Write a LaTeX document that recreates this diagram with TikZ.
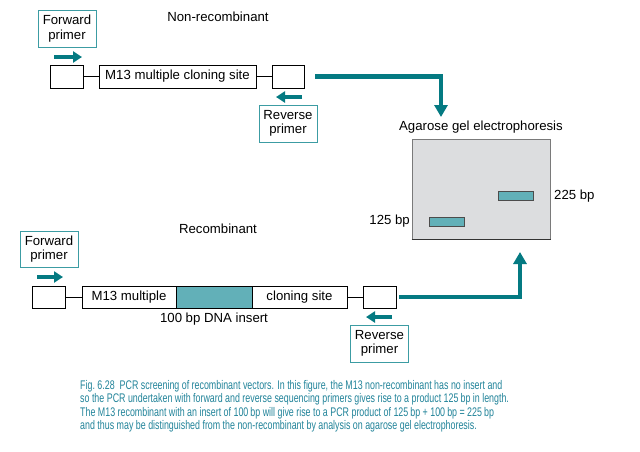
\documentclass[tikz,border=0pt]{standalone}
\usepackage{fontspec}
\setmainfont{Liberation Sans}
\newfontfamily\capfont[FakeStretch=0.71]{Liberation Sans}
\usetikzlibrary{arrows.meta}
\definecolor{tealdark}{HTML}{047A82}
\definecolor{bandfill}{HTML}{62B0B8}
\definecolor{primerline}{HTML}{3C9CA3}
\definecolor{captext}{HTML}{22849A}
\definecolor{gelfill}{HTML}{DCDDDF}
\definecolor{gelline}{HTML}{7A7A7A}
\tikzset{
  lbl/.style={font=\fontsize{13.2}{14}\selectfont, inner sep=0pt, align=center},
  dnabox/.style={draw=black, line width=0.8pt, fill=white, inner sep=0pt, minimum height=23pt, font=\fontsize{13.2}{14}\selectfont},
  primerbox/.style={draw=primerline, line width=0.9pt, fill=white, inner sep=0pt, minimum width=58pt, minimum height=37pt, align=center, font=\fontsize{13.2}{14.5}\selectfont},
  primerarrow/.style={draw=tealdark, line width=4pt, -{Triangle[width=11pt,length=9pt]}},
  bigarrow/.style={draw=tealdark, line width=4.2pt, -{Triangle[width=13pt,length=12pt]}},
  thinline/.style={draw=black, line width=0.8pt},
  band/.style={draw=black!70, line width=0.8pt, fill=bandfill, minimum width=35pt, minimum height=9pt, inner sep=0pt},
  capline/.style={font=\capfont\fontsize{12.5}{13.3}\selectfont, text=captext, anchor=base west, inner sep=0pt}
}
\begin{document}
\begin{tikzpicture}[x=1pt,y=-1pt]
\useasboundingbox (0,0) rectangle (640,451);
\fill[white] (0,0) rectangle (640,451);

% ---------- Non-recombinant ----------
\node[lbl] (nonrec) at (218,17) {Non-recombinant};
\node[primerbox] (fp1) at (67,28.5) {Forward\\primer};
\node[dnabox, minimum width=33pt] (lb1) at (66.5,76.5) {};
\node[dnabox, minimum width=157pt] (mcs1) at (177.5,76.5) {M13 multiple cloning site};
\node[dnabox, minimum width=32pt] (rb1) at (288,76.5) {};
\node[primerbox] (rp1) at (288,123.5) {Reverse\\primer};
\draw[thinline] (lb1.east) -- (mcs1.west);
\draw[thinline] (mcs1.east) -- (rb1.west);
\coordinate (fa1s) at (54,57);
\coordinate (fa1e) at (82,57);
\draw[primerarrow] (fa1s) -- (fa1e);
\coordinate (ra1s) at (302,97);
\coordinate (ra1e) at (276,97);
\draw[primerarrow] (ra1s) -- (ra1e);

% ---------- Gel ----------
\node[lbl] (gellbl) at (481,127) {Agarose gel electrophoresis};
\node[draw=gelline, line width=1pt, fill=gelfill, minimum width=138pt, minimum height=100pt, inner sep=0pt] (gel) at (481,189) {};
\draw[black!80, line width=1.2pt] (gel.south west) -- (gel.south east);
\node[band] (b225) at (515.5,196) {};
\node[band] (b125) at (446.5,221.5) {};
\node[lbl, anchor=west] (l225) at (554,196) {225 bp};
\node[lbl, anchor=east] (l125) at (410,221.5) {125 bp};

% ---------- Recombinant ----------
\node[lbl] (rec) at (218,229) {Recombinant};
\node[primerbox, minimum height=36pt] (fp2) at (49,249) {Forward\\primer};
\node[dnabox, minimum width=33pt, minimum height=22pt] (lb2) at (48.5,297) {};
\node[dnabox, minimum width=94pt, minimum height=22pt] (m13b) at (129,297) {M13 multiple};
\node[dnabox, minimum width=76pt, minimum height=22pt, fill=bandfill] (ins) at (214,297) {};
\node[dnabox, minimum width=95pt, minimum height=22pt] (csb) at (299.5,297) {cloning site};
\node[dnabox, minimum width=33pt, minimum height=22pt] (rb2) at (379.5,297) {};
\node[lbl] (inslbl) at (214,319) {100 bp DNA insert};
\node[primerbox] (rp2) at (379.5,343.5) {Reverse\\primer};
\draw[thinline] (lb2.east) -- (m13b.west);
\draw[thinline] (csb.east) -- (rb2.west);
\coordinate (fa2s) at (37,277);
\coordinate (fa2e) at (63,277);
\draw[primerarrow] (fa2s) -- (fa2e);
\coordinate (ra2s) at (392,317);
\coordinate (ra2e) at (366,317);
\draw[primerarrow] (ra2s) -- (ra2e);

% ---------- Connectors ----------
\coordinate (t1) at (441,117);
\draw[bigarrow] ([xshift=11pt]rb1.east) -| (t1);
\coordinate (t2) at (520,252);
\draw[bigarrow] ([xshift=3pt]rb2.east) -| (t2);

% ---------- Caption ----------
\node[capline] (c1) at (80,389.5) {Fig.\ 6.28\hspace{5pt}PCR screening of recombinant vectors. In this figure, the M13 non-recombinant has no insert and};
\node[capline] (c2) at (80,402.8) {so the PCR undertaken with forward and reverse sequencing primers gives rise to a product 125\,bp in length.};
\node[capline] (c3) at (80,416.1) {The M13 recombinant with an insert of 100\,bp will give rise to a PCR product of 125\,bp + 100\,bp = 225\,bp};
\node[capline] (c4) at (80,429.4) {and thus may be distinguished from the non-recombinant by analysis on agarose gel electrophoresis.};
\end{tikzpicture}
\end{document}
